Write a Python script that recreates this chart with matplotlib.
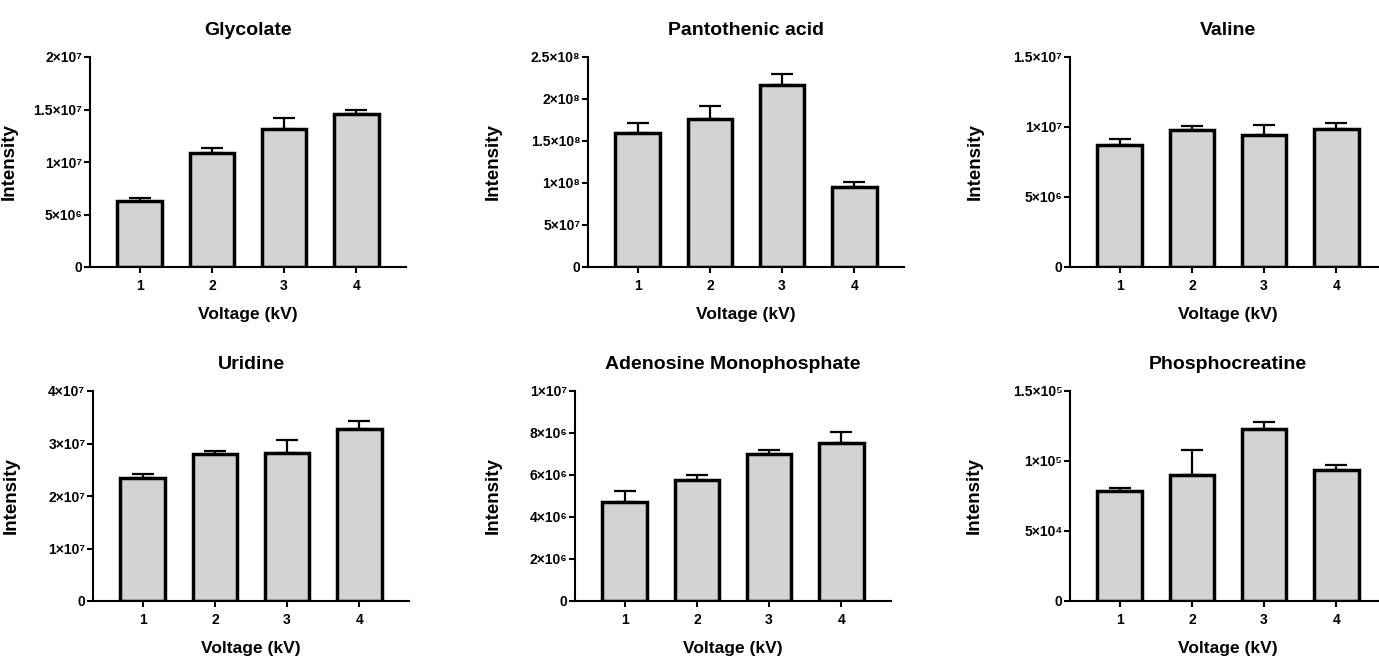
import math
import matplotlib as mpl
import matplotlib.pyplot as plt
from matplotlib.ticker import FixedLocator, FuncFormatter

mpl.use('Agg')

plt.rcParams['font.family'] = ['Liberation Sans', 'DejaVu Sans']
plt.rcParams['font.weight'] = 'bold'

voltage = [1, 2, 3, 4]

titles = ['Glycolate', 'Pantothenic acid', 'Valine',
          'Uridine', 'Adenosine Monophosphate', 'Phosphocreatine']

glycolate = [6.27e6, 10.85e6, 13.15e6, 14.55e6]
glycolate_err = [0.26e6, 0.45e6, 1.0e6, 0.38e6]

pantothenic = [1.60e8, 1.765e8, 2.17e8, 0.955e8]
pantothenic_err = [0.12e8, 0.15e8, 0.13e8, 0.06e8]

valine = [8.72e6, 9.82e6, 9.43e6, 9.89e6]
valine_err = [0.40e6, 0.26e6, 0.74e6, 0.40e6]

uridine = [23.4e6, 27.95e6, 28.2e6, 32.7e6]
uridine_err = [0.7e6, 0.64e6, 2.5e6, 1.66e6]

amp = [4.71e6, 5.75e6, 7.02e6, 7.53e6]
amp_err = [0.54e6, 0.24e6, 0.16e6, 0.54e6]

phospho = [78.7e3, 90.2e3, 122.7e3, 93.3e3]
phospho_err = [1.7e3, 17.9e3, 5.5e3, 3.8e3]

yticks = [
    [0, 5e6, 1e7, 1.5e7, 2e7],
    [0, 5e7, 1e8, 1.5e8, 2e8, 2.5e8],
    [0, 5e6, 1e7, 1.5e7],
    [0, 1e7, 2e7, 3e7, 4e7],
    [0, 2e6, 4e6, 6e6, 8e6, 1e7],
    [0, 5e4, 1e5, 1.5e5],
]

values = [glycolate, pantothenic, valine, uridine, amp, phospho]
errors = [glycolate_err, pantothenic_err, valine_err, uridine_err, amp_err, phospho_err]

# axes boxes in pixels: left, top, ylabel offset
W, H = 1379, 660
boxes = [(90, 57, 72), (588, 57, 86), (1070, 57, 86),
         (93, 391, 73), (575, 391, 73), (1070, 391, 87)]

SUP = str.maketrans('0123456789', '⁰¹²³⁴⁵⁶⁷⁸⁹')


def sci(v, pos=None):
    if v == 0:
        return '0'
    e = int(math.floor(math.log10(v) + 1e-9))
    m = v / 10 ** e
    return '%g×10%s' % (round(m, 2), str(e).translate(SUP))


fig = plt.figure(figsize=(W / 100, H / 100), dpi=100)

for i in range(6):
    left, top, lab = boxes[i]
    aw, ah = 316, 210
    ax = fig.add_axes([left / W, 1 - (top + ah) / H, aw / W, ah / H])
    ax.errorbar(voltage, values[i], yerr=[[0] * 4, errors[i]], fmt='none',
                ecolor='black', elinewidth=1.6, capsize=8, capthick=1.6, zorder=1)
    ax.bar(voltage, values[i], width=0.62, color='#d3d3d3', edgecolor='black',
           linewidth=2.5, zorder=2)
    ax.set_xlim(0.31, 4.69)
    ax.set_ylim(0, yticks[i][-1])
    ax.yaxis.set_major_locator(FixedLocator(yticks[i]))
    ax.yaxis.set_major_formatter(FuncFormatter(sci))
    ax.set_xticks(voltage)
    ax.spines['top'].set_visible(False)
    ax.spines['right'].set_visible(False)
    for s in ['left', 'bottom']:
        ax.spines[s].set_linewidth(1.5)
    ax.spines['left'].set_zorder(3)
    ax.tick_params(direction='out', length=4.5, width=1.5)
    ax.tick_params(axis='y', labelsize=10, pad=1)
    ax.tick_params(axis='x', labelsize=10, pad=4)
    for t in ax.get_xticklabels() + ax.get_yticklabels():
        t.set_fontweight('bold')
    ax.set_title(titles[i], fontsize=14, fontweight='bold', pad=16)
    ax.set_xlabel('Voltage (kV)', fontsize=12.5, fontweight='bold', labelpad=10)
    ax.set_ylabel('Intensity', fontsize=13.5, fontweight='bold')
    ax.yaxis.set_label_coords(-lab / aw, 0.5)

fig.savefig('out.png', dpi=100)
